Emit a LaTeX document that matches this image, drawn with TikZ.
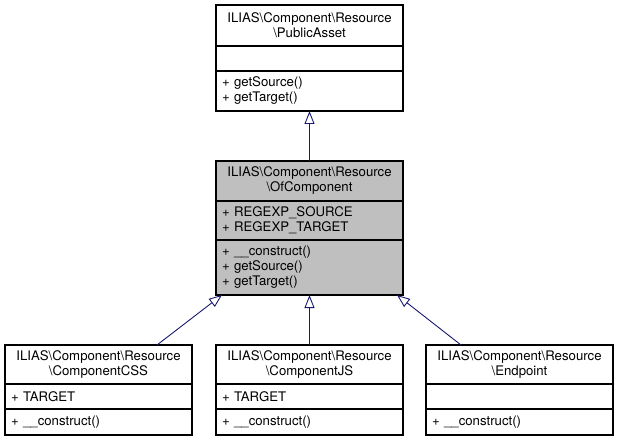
\documentclass[tikz,border=0pt]{standalone}
\usepackage{fontspec}
\setmainfont{TeX Gyre Heros}
\usepackage{tikz}
\usetikzlibrary{positioning,arrows.meta}
\definecolor{edgeblue}{RGB}{25,25,112}
\definecolor{classgray}{RGB}{191,191,191}
\newcommand{\bs}{\textbackslash}

\begin{document}
\begin{tikzpicture}[x=1pt, y=-1pt,
    font=\fontsize{13.2}{15}\selectfont,
    part/.style={draw=black, line width=1.1pt, minimum width=187pt, text width=175pt,
                 inner xsep=6pt, inner ysep=0pt, outer sep=0pt},
    title/.style={part, align=center},
    members/.style={part, align=left},
    inherit/.style={draw=edgeblue, line width=0.9pt,
                    -{Triangle[open, length=13pt, width=10pt]}}]

  \useasboundingbox (0,0) rectangle (619,441);

  % base class
  \node[title, minimum height=41pt] (pa-name) at (309.5,25.5) {ILIAS\bs Component\bs Resource\\\bs PublicAsset};
  \node[members, minimum height=25pt, below=0pt of pa-name] (pa-attr) {};
  \node[members, minimum height=40pt, below=0pt of pa-attr] (pa-ops) {+ getSource()\\+ getTarget()};

  % the class shown
  \node[title, fill=classgray, minimum height=40pt] (oc-name) at (309.5,181) {ILIAS\bs Component\bs Resource\\\bs OfComponent};
  \node[members, fill=classgray, minimum height=39pt, below=0pt of oc-name] (oc-attr) {+ REGEXP\_SOURCE\\+ REGEXP\_TARGET};
  \node[members, fill=classgray, minimum height=55pt, below=0pt of oc-attr] (oc-ops) {+ \_\_construct()\\+ getSource()\\+ getTarget()};

  % derived classes
  \node[title, minimum height=39pt] (css-name) at (98.5,364.5) {ILIAS\bs Component\bs Resource\\\bs ComponentCSS};
  \node[members, minimum height=25pt, below=0pt of css-name] (css-attr) {+ TARGET};
  \node[members, minimum height=26pt, below=0pt of css-attr] (css-ops) {+ \_\_construct()};

  \node[title, minimum height=39pt] (js-name) at (309.5,364.5) {ILIAS\bs Component\bs Resource\\\bs ComponentJS};
  \node[members, minimum height=25pt, below=0pt of js-name] (js-attr) {+ TARGET};
  \node[members, minimum height=26pt, below=0pt of js-attr] (js-ops) {+ \_\_construct()};

  \node[title, minimum height=39pt] (ep-name) at (519.5,364.5) {ILIAS\bs Component\bs Resource\\\bs Endpoint};
  \node[members, minimum height=25pt, below=0pt of ep-name] (ep-attr) {};
  \node[members, minimum height=26pt, below=0pt of ep-attr] (ep-ops) {+ \_\_construct()};

  % generalisations
  \draw[inherit] (oc-name.north) -- (pa-ops.south);
  \draw[inherit] ([xshift=-35pt]css-name.north east) -- ([xshift=6pt]oc-ops.south west);
  \draw[inherit] (js-name.north) -- (oc-ops.south);
  \draw[inherit] ([xshift=35pt]ep-name.north west) -- ([xshift=-6pt]oc-ops.south east);
\end{tikzpicture}
\end{document}
